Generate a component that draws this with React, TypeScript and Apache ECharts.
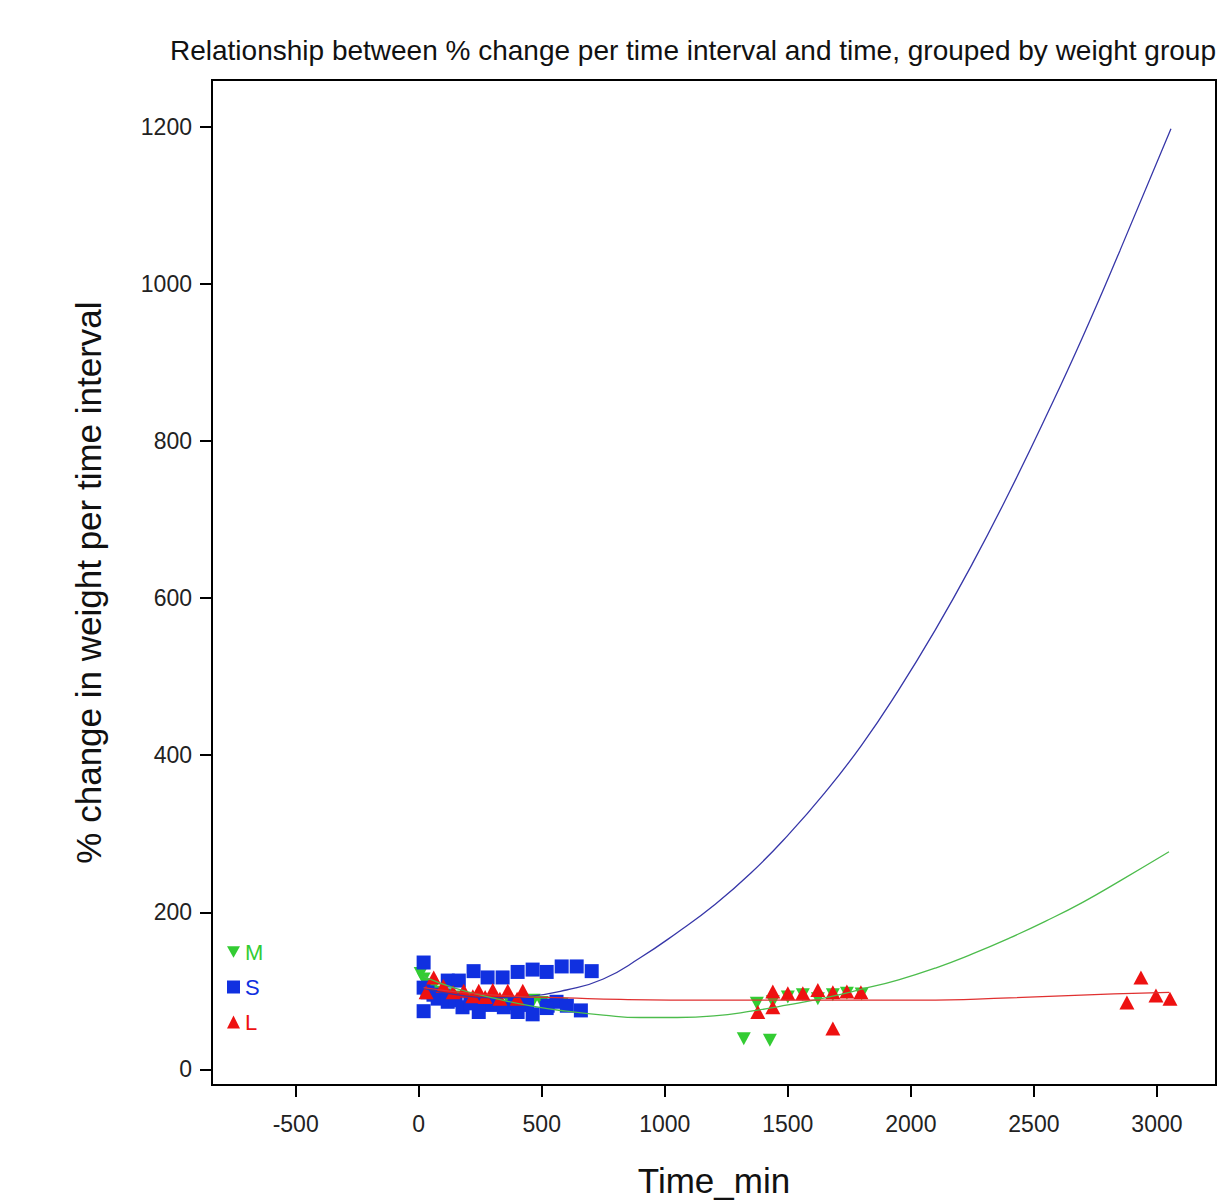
import React, { useEffect, useRef } from "react";
import * as echarts from "echarts";

const titleText = "Relationship between % change per time interval and time, grouped by weight group";
const xTicks = [-500, 0, 500, 1000, 1500, 2000, 2500, 3000];
const yTicks = [0, 200, 400, 600, 800, 1000, 1200];

const groupNames = ["M", "S", "L"];

const pointsM: number[][] = [
  [8, 122], [20, 115], [35, 108], [55, 103], [80, 98], [110, 95], [150, 92], [200, 90],
  [250, 88], [310, 86], [370, 85], [430, 84], [467, 88], [500, 85], [540, 82], [580, 83],
  [1321, 39], [1427, 37], [1374, 84], [1439, 86], [1500, 92], [1561, 95], [1622, 90],
  [1683, 95], [1740, 97], [1800, 96],
];

const pointsS: number[][] = [
  [20, 136], [118, 113], [163, 113], [223, 125], [280, 117], [341, 117], [402, 124],
  [463, 127], [520, 124], [581, 131], [642, 131], [703, 125],
  [20, 104], [36, 98], [60, 95], [77, 90], [100, 93], [118, 86], [150, 88], [178, 79],
  [210, 84], [250, 86], [290, 82], [346, 79], [390, 84], [440, 82], [524, 81], [560, 86],
  [20, 74], [244, 73], [402, 73], [463, 70], [520, 78], [602, 81], [659, 75],
];

const pointsL: number[][] = [
  [30, 98], [61, 117], [100, 106], [140, 98], [183, 100], [220, 93], [244, 100], [270, 92],
  [301, 101], [330, 90], [362, 100], [400, 90], [423, 100],
  [1378, 73], [1439, 79], [1439, 99], [1500, 97], [1561, 97], [1622, 101], [1683, 98],
  [1740, 99], [1797, 98], [1683, 52],
  [2878, 85], [2935, 117], [2996, 94], [3053, 90],
];

const curveS: number[][] = [
  [20, 103], [150, 95], [300, 91], [450, 93], [600, 101], [750, 115], [900, 142], [1050, 174],
  [1200, 209], [1350, 250], [1500, 298], [1650, 352], [1800, 413], [1950, 483], [2100, 560],
  [2250, 644], [2400, 735], [2550, 832], [2700, 934], [2850, 1043], [3057, 1198],
];

const curveM: number[][] = [
  [20, 118], [150, 103], [300, 91], [450, 81], [600, 74], [750, 69], [900, 66], [1050, 66],
  [1200, 68], [1350, 74], [1500, 82], [1650, 91], [1800, 102], [1950, 114], [2100, 129],
  [2250, 147], [2400, 167], [2550, 189], [2700, 213], [2850, 240], [3049, 277],
];

const curveL: number[][] = [
  [20, 104], [200, 97], [400, 93], [600, 91], [821, 89], [1200, 88], [1600, 88], [2041, 88],
  [2400, 91], [2825, 96], [3050, 98],
];

const GREEN = "#33cc33";
const BLUE = "#1030e0";
const RED = "#ee1111";
const FONT = "Liberation Sans, Arial, sans-serif";

export default function App() {
  const ref = useRef<HTMLDivElement>(null);
  useEffect(() => {
    document.body.style.margin = "0";
    const chart = echarts.init(ref.current!, null, { renderer: "svg" });
    const tri = "path://M0,0 L10,0 L5,9 Z";
    const fmt = (v: number) => String(v);
    chart.setOption({
      animation: false,
      backgroundColor: "#ffffff",
      title: {
        text: titleText,
        left: 165,
        top: 31,
        textStyle: { fontSize: 28, fontWeight: "normal", color: "#111", fontFamily: FONT },
      },
      legend: {
        data: [
          { name: groupNames[0], textStyle: { color: GREEN } },
          { name: groupNames[1], textStyle: { color: BLUE } },
          { name: groupNames[2], textStyle: { color: RED } },
        ],
        orient: "vertical",
        left: 222,
        top: 936,
        itemWidth: 13,
        itemHeight: 13,
        itemGap: 13,
        textStyle: { fontSize: 22, fontFamily: FONT },
        selectedMode: false,
      },
      grid: {
        left: 212,
        top: 80,
        right: 8,
        bottom: 118,
        show: true,
        borderColor: "#000",
        borderWidth: 2,
        containLabel: false,
        outerBoundsMode: "none",
      },
      xAxis: {
        type: "value",
        min: -840,
        max: 3240,
        name: "Time_min",
        nameLocation: "middle",
        nameGap: 78,
        nameTextStyle: { fontSize: 35, color: "#111", fontFamily: FONT },
        axisLine: { show: true, onZero: false, lineStyle: { color: "#000", width: 2 } },
        axisTick: { show: true, length: 12, lineStyle: { color: "#000", width: 2 }, customValues: xTicks },
        axisLabel: { fontSize: 23, color: "#222", margin: 27, fontFamily: FONT, customValues: xTicks, formatter: fmt },
        splitLine: { show: false },
      },
      yAxis: {
        type: "value",
        min: -20,
        max: 1260,
        name: "% change in weight per time interval",
        nameLocation: "middle",
        nameGap: 106,
        nameRotate: 90,
        nameTextStyle: { fontSize: 35, color: "#111", fontFamily: FONT },
        axisLine: { show: true, onZero: false, lineStyle: { color: "#000", width: 2 } },
        axisTick: { show: true, length: 12, lineStyle: { color: "#000", width: 2 }, customValues: yTicks },
        axisLabel: { fontSize: 23, color: "#222", margin: 20, fontFamily: FONT, customValues: yTicks, formatter: fmt },
        splitLine: { show: false },
      },
      series: [
        {
          name: groupNames[0],
          type: "scatter",
          data: pointsM,
          symbol: tri,
          symbolSize: [14, 13],
          itemStyle: { color: GREEN, opacity: 1 },
        },
        {
          name: groupNames[1],
          type: "scatter",
          data: pointsS,
          symbol: "rect",
          symbolSize: 14,
          itemStyle: { color: BLUE, opacity: 1 },
        },
        {
          name: groupNames[2],
          type: "scatter",
          data: pointsL,
          symbol: "triangle",
          symbolSize: [15, 14],
          itemStyle: { color: RED, opacity: 1 },
        },
        {
          name: "S fit",
          type: "line",
          data: curveS,
          smooth: true,
          showSymbol: false,
          lineStyle: { color: "#3636a8", width: 1.3 },
        },
        {
          name: "M fit",
          type: "line",
          data: curveM,
          smooth: true,
          showSymbol: false,
          lineStyle: { color: "#4cbc4c", width: 1.3 },
        },
        {
          name: "L fit",
          type: "line",
          data: curveL,
          smooth: true,
          showSymbol: false,
          lineStyle: { color: "#e03030", width: 1.3 },
        },
      ],
    });
    return () => chart.dispose();
  }, []);
  return <div ref={ref} style={{ width: 1224, height: 1203 }} />;
}
